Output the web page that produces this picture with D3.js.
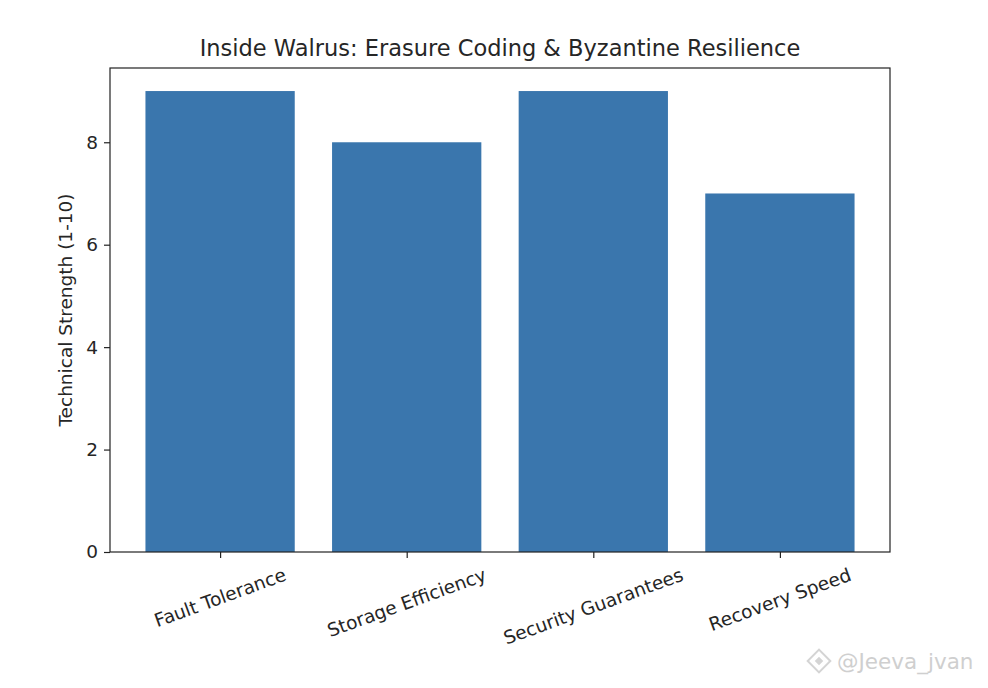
<!DOCTYPE html>
<html>
<head>
<meta charset="utf-8">
<script src="https://cdn.jsdelivr.net/npm/d3@7"></script>
<style>
  body { margin: 0; background: #fff; }
  text { font-family: "DejaVu Sans", sans-serif; fill: #262626; }
</style>
</head>
<body>
<svg id="mainSvg"></svg>
<script>
const categories = ['Fault Tolerance', 'Storage Efficiency', 'Security Guarantees', 'Recovery Speed']
const scores = [9, 8, 9, 7]
const yTicks = [0, 2, 4, 6, 8]

const style = {
    svgW: 988, svgH: 688,
    plot: { l: 110, r: 890, t: 68, b: 552 },
    barColor: '#3a76ad',
    tickFont: 18.5,
    titleFont: 22.5,
}

const svg = d3.select('#mainSvg')
    .attr('width', style.svgW)
    .attr('height', style.svgH)

// matplotlib style limits: bars width 0.8, 5% margins
const x = d3.scaleLinear()
    .domain([-0.59, categories.length - 1 + 0.59])
    .range([style.plot.l, style.plot.r])
const y = d3.scaleLinear()
    .domain([0, d3.max(scores) * 1.05])
    .range([style.plot.b, style.plot.t])

const barW = 0.8

svg.append('g').selectAll('rect')
    .data(scores)
    .join('rect')
    .attr('x', (d, i) => x(i - barW / 2))
    .attr('width', (d, i) => x(i + barW / 2) - x(i - barW / 2))
    .attr('y', d => y(d))
    .attr('height', d => y(0) - y(d))
    .attr('fill', style.barColor)

// frame
svg.append('rect')
    .attr('x', style.plot.l)
    .attr('y', style.plot.t)
    .attr('width', style.plot.r - style.plot.l)
    .attr('height', style.plot.b - style.plot.t)
    .attr('fill', 'none')
    .attr('stroke', '#222')
    .attr('stroke-width', 1.2)

// y axis
const yAxis = d3.axisLeft(y).tickValues(yTicks).tickSize(6).tickPadding(6)
const yG = svg.append('g')
    .attr('transform', `translate(${style.plot.l},0)`)
    .call(yAxis)
yG.select('.domain').remove()
yG.selectAll('line').attr('stroke', '#222').attr('stroke-width', 1.2)
yG.selectAll('text').attr('font-size', style.tickFont).attr('fill', '#262626')
    .attr('font-family', '"DejaVu Sans", sans-serif')

// x axis
const xAxis = d3.axisBottom(x)
    .tickValues(d3.range(categories.length))
    .tickSize(6)
    .tickFormat('')
const xG = svg.append('g')
    .attr('transform', `translate(0,${style.plot.b})`)
    .call(xAxis)
xG.select('.domain').remove()
xG.selectAll('line').attr('stroke', '#222').attr('stroke-width', 1.2)

// rotated category labels, centered under tick (ha=center, rotation=20)
const rot = 20 * Math.PI / 180
categories.forEach((c, i) => {
    const t = svg.append('text')
        .attr('font-size', style.tickFont)
        .attr('text-anchor', 'middle')
        .attr('dominant-baseline', 'central')
        .text(c)
    const bb = t.node().getBBox()
    const hb = bb.width * Math.sin(rot) + bb.height * Math.cos(rot)
    const cy = style.plot.b + 12 + hb / 2
    t.attr('transform', `translate(${x(i)},${cy}) rotate(-20)`)
})

// y label
svg.append('text')
    .attr('transform', `translate(72,${(style.plot.t + style.plot.b) / 2}) rotate(-90)`)
    .attr('text-anchor', 'middle')
    .attr('font-size', style.tickFont)
    .text('Technical Strength (1-10)')

// title
svg.append('text')
    .attr('x', (style.plot.l + style.plot.r) / 2)
    .attr('y', 56)
    .attr('text-anchor', 'middle')
    .attr('font-size', style.titleFont)
    .text('Inside Walrus: Erasure Coding & Byzantine Resilience')

// watermark
const wm = svg.append('g').attr('transform', 'translate(819,661)')
wm.append('rect')
    .attr('x', -8).attr('y', -8).attr('width', 16).attr('height', 16)
    .attr('transform', 'rotate(45)')
    .attr('fill', 'none').attr('stroke', '#d4d4d4').attr('stroke-width', 2)
wm.append('rect')
    .attr('x', -3).attr('y', -3).attr('width', 6).attr('height', 6)
    .attr('transform', 'rotate(45)')
    .attr('fill', '#d4d4d4')
wm.append('text')
    .attr('x', 18)
    .attr('y', 8)
    .attr('font-size', 21.5)
    .attr('font-family', '"Noto Sans", sans-serif')
    .style('fill', '#cfcfcf')
    .text('@Jeeva_jvan')
</script>
</body>
</html>
